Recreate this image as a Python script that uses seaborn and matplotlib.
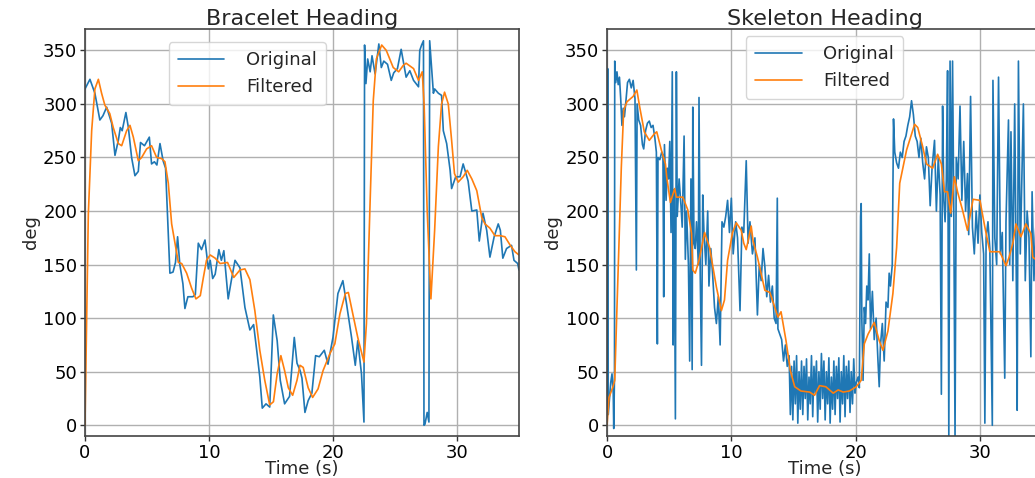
import matplotlib
matplotlib.use("Agg")
import matplotlib.pyplot as plt
import seaborn as sns

# --- bracelet heading (deg) ---
brc_t = [0.0, 0.4, 0.8, 1.2, 1.45, 1.75, 2.15, 2.42, 2.69, 2.85, 3.0, 3.3, 3.5, 3.76,
         4.03, 4.3, 4.48, 4.8, 5.19, 5.37, 5.6, 5.8, 6.05, 6.3, 6.5, 6.85, 7.1, 7.3,
         7.47, 7.65, 7.9, 8.06, 8.3, 8.7, 8.9, 9.14, 9.4, 9.68, 9.95, 10.1, 10.3, 10.5,
         10.8, 11.0, 11.2, 11.55, 11.8, 12.1, 12.5, 12.9, 13.3, 13.6, 13.85, 14.1, 14.3,
         14.6, 14.9, 15.19, 15.5, 15.75, 16.1, 16.5, 16.88, 17.1, 17.35, 17.5, 17.74,
         18.0, 18.3, 18.6, 18.9, 19.3, 19.6, 20.0, 20.4, 20.8, 21.1, 21.5, 21.8, 22.0,
         22.3, 22.5, 22.55, 22.66, 22.8, 23.0, 23.15, 23.4, 23.7, 23.9, 24.1, 24.4,
         24.7, 24.9, 25.2, 25.5, 25.9, 26.2, 26.5, 26.7, 26.9, 27.0, 27.15, 27.3, 27.34,
         27.42, 27.6, 27.74, 27.8, 28.1, 28.2, 28.5, 28.76, 28.9, 29.17, 29.45, 29.57,
         29.9, 30.25, 30.5, 30.9, 31.2, 31.6, 31.8, 32.1, 32.4, 32.66, 33.0, 33.33, 33.5,
         33.7, 34.0, 34.4, 34.6, 34.9, 35.0]
brc_raw = [314, 323, 310, 285, 289, 297, 282, 252, 266, 278, 275, 292, 278, 250,
           233, 237, 264, 261, 269, 244, 246, 243, 263, 247, 240, 142, 143, 152,
           176, 150, 132, 109, 120, 120, 122, 170, 164, 173, 146, 154, 137, 141,
           164, 154, 163, 118, 135, 154, 147, 110, 89, 94, 70, 45, 16,
           20, 17, 103, 79, 42, 20, 27, 82, 58, 51, 44, 12,
           23, 30, 65, 64, 70, 57, 82, 123, 135, 113, 82, 56, 79,
           48, 3, 355, 319, 342, 330, 345, 328, 356, 334, 340, 337,
           322, 329, 333, 351, 325, 331, 322, 319, 316, 350, 355, 359, 0,
           1, 12, 3, 359, 310, 314, 310, 308, 275, 263, 238, 221,
           232, 232, 244, 228, 200, 201, 172, 198, 182, 157, 176, 188, 182,
           156, 165, 168, 154, 151, 145]

brc_ft = [0.0, 0.27, 0.54, 0.8, 1.08, 1.34, 1.6, 2.0, 2.28, 2.69, 2.96, 3.36, 3.63, 3.9,
          4.3, 4.57, 4.97, 5.37, 5.78, 6.18, 6.45, 6.72, 6.99, 7.26, 7.53, 7.8, 8.2,
          8.6, 8.95, 9.3, 9.55, 9.8, 10.1, 10.5, 10.9, 11.5, 12.0, 12.5, 12.9, 13.3,
          13.7, 14.1, 14.5, 14.9, 15.2, 15.5, 15.8, 16.1, 16.4, 16.75, 17.1, 17.34, 17.6,
          18.0, 18.36, 18.8, 19.2, 19.76, 20.15, 20.56, 21.0, 21.24, 21.6, 22.0, 22.5,
          22.7, 23.0, 23.25, 23.5, 23.93, 24.3, 24.86, 25.3, 25.67, 25.9, 26.5, 26.9,
          27.2, 27.35, 27.6, 27.9, 28.2, 28.5, 28.76, 29.0, 29.3, 29.57, 29.8, 30.1,
          30.5, 30.83, 31.2, 31.6, 32.0, 32.26, 32.66, 33.06, 33.5, 33.87, 34.3, 34.68,
          35.0]
brc_filt = [0, 197, 275, 314, 323, 310, 299, 291, 278, 263, 261, 275, 280, 269,
            247, 250, 258, 261, 250, 249, 246, 226, 188, 170, 152, 151, 142,
            128, 118, 121, 138, 154, 159, 156, 151, 152, 138, 145, 146, 136,
            107, 70, 42, 19, 22, 48, 65, 51, 35, 28, 42, 56, 54,
            35, 26, 34, 51, 67, 76, 104, 123, 124, 104, 82, 59,
            95, 210, 303, 342, 355, 350, 334, 330, 336, 338, 333, 322,
            330, 300, 200, 118, 182, 260, 300, 311, 300, 266, 235, 227,
            232, 238, 230, 219, 194, 188, 184, 177, 177, 176, 168, 162,
            159]

# --- skeleton heading (deg) ---
skl_t = [0.00, 0.05, 0.10, 0.20, 0.30, 0.40, 0.50, 0.54, 0.60, 0.62, 0.70, 0.80, 0.90,
         1.00, 1.10, 1.20, 1.30, 1.40, 1.50, 1.65, 1.80, 1.95, 2.10, 2.25, 2.36, 2.42,
         2.55, 2.70, 2.85, 2.95, 3.10, 3.25, 3.40, 3.55, 3.70, 3.85, 3.97, 4.05, 4.10,
         4.25, 4.40, 4.50, 4.56, 4.62, 4.75, 4.85, 4.95, 5.05, 5.15, 5.25, 5.32, 5.40,
         5.50, 5.58, 5.65, 5.80, 5.95, 6.05, 6.20, 6.30, 6.40, 6.55, 6.65, 6.75, 6.85,
         6.90, 7.00, 7.10, 7.20, 7.35, 7.40, 7.50, 7.60, 7.70, 7.80, 7.95, 8.10, 8.20,
         8.35, 8.50, 8.65, 8.80, 8.95, 9.10, 9.25, 9.40, 9.55, 9.70, 9.85, 10.00, 10.15,
         10.35, 10.50, 10.70, 10.85, 11.00, 11.20, 11.35, 11.50, 11.70, 11.90, 12.10,
         12.25, 12.40, 12.55, 12.70, 12.85, 13.00, 13.15, 13.30, 13.45, 13.60, 13.70,
         13.75, 13.90, 14.05, 14.20, 14.35, 14.50, 14.65, 14.75, 14.85, 14.95, 15.05,
         15.15, 15.25, 15.35, 15.45, 15.55, 15.65, 15.75, 15.85, 15.95, 16.05, 16.15,
         16.25, 16.35, 16.45, 16.55, 16.65, 16.75, 16.85, 16.95, 17.05, 17.15, 17.25,
         17.35, 17.45, 17.55, 17.65, 17.75, 17.85, 17.95, 18.05, 18.15, 18.25, 18.35,
         18.45, 18.55, 18.65, 18.75, 18.85, 18.95, 19.05, 19.15, 19.25, 19.35, 19.45,
         19.55, 19.65, 19.75, 19.85, 19.95, 20.05, 20.20, 20.30, 20.40, 20.45, 20.50,
         20.60, 20.70, 20.80, 20.90, 21.00, 21.10, 21.20, 21.35, 21.50, 21.65, 21.80,
         21.90, 22.00, 22.15, 22.30, 22.45, 22.60, 22.70, 22.80, 22.95, 23.05, 23.15,
         23.30, 23.45, 23.60, 23.75, 23.90, 24.05, 24.20, 24.35, 24.50, 24.65, 24.80,
         24.95, 25.10, 25.25, 25.40, 25.55, 25.70, 25.85, 26.00, 26.15, 26.35, 26.50,
         26.65, 26.80, 26.90, 27.00, 27.10, 27.20, 27.30, 27.40, 27.50, 27.60, 27.70,
         27.80, 27.90, 28.00, 28.10, 28.25, 28.40, 28.55, 28.70, 28.85, 29.00, 29.10,
         29.25, 29.40, 29.55, 29.70, 29.85, 30.00, 30.15, 30.30, 30.40, 30.50, 30.65,
         30.80, 31.00, 31.05, 31.20, 31.35, 31.50, 31.65, 31.80, 32.00, 32.10, 32.30,
         32.40, 32.50, 32.65, 32.80, 32.95, 33.00, 33.10, 33.25, 33.50, 33.65, 33.80,
         33.95, 34.10, 34.20, 34.35, 34.45, 34.55, 34.70, 34.85, 35.00]
skl_raw = [0, 333, 10, 25, 40, 48, 30, -3, 45, 340, 320, 330, 318,
           325, 305, 280, 296, 288, 300, 320, 323, 315, 322, 305, 145, 300,
           285, 280, 262, 258, 275, 282, 284, 278, 280, 268, 255, 76, 250,
           248, 255, 252, 120, 262, 210, 240, 230, 265, 180, 330, 75, 220,
           6, 330, 195, 230, 205, 185, 270, 155, 200, 150, 60, 230, 52,
           297, 170, 165, 190, 150, 306, 140, 56, 215, 180, 150, 200, 130,
           165, 140, 110, 95, 120, 75, 190, 185, 195, 210, 180, 212, 160,
           190, 175, 107, 185, 180, 247, 170, 190, 160, 175, 103,
           150, 135, 165, 148, 120, 140, 115, 130, 100, 95, 212,
           90, 85, 80, 60, 75, 55, 65, 10, 55, 5, 60,
           20, 65, 2, 50, 15, 60, 10, 55, 25, 62, 5,
           45, 20, 65, 8, 55, 30, 60, 3, 50, 15, 67,
           25, 60, 5, 50, 20, 63, 2, 45, 15, 60, 10,
           55, 25, 63, 3, 50, 20, 65, 8, 55, 25, 60,
           12, 50, 20, 62, 30, 40, 45, 35, 195, 207, 100,
           42, 110, 95, 130, 117, 160, 90, 125, 80, 100, 60,
           36, 75, 95, 60, 115, 110, 142, 130, 150, 286, 255,
           245, 240, 255, 250, 265, 270, 280, 288, 303, 290, 270,
           265, 250, 268, 245, 230, 260, 250, 205, 240, 266, 200,
           250, 215, 29, 298, 210, 190, 230, 331, -12, 340, 195,
           340, 200, -12, 250, 230, 298, 210, 265, 200, 235, 178,
           307, 185, 160, 200, 170, 215, 180, 160, 2, 175, 190,
           165, 0, 322, 175, 150, 325, 160, 180, 44, 190, 285,
           150, 274, 135, 300, 110, 14, 340, 160, 300, 135, 200,
           175, 64, 218, 135, 175, 195, 140, 185, 165]

skl_ft = [0.0, 0.16, 0.48, 0.62, 0.8, 0.97, 1.15, 1.34, 1.6, 2.1, 2.4, 2.63, 3.0, 3.4,
          3.8, 4.0, 4.37, 4.7, 4.8, 5.1, 5.44, 5.58, 6.1, 6.5, 6.8, 6.9, 7.1, 7.4,
          7.85, 8.25, 8.8, 9.2, 9.45, 9.7, 10.1, 10.4, 10.8, 11.0, 11.2, 11.6, 11.75,
          12.1, 12.7, 13.1, 13.5, 13.75, 14.0, 14.4, 14.75, 15.1, 15.6, 16.3, 16.7,
          17.1, 17.6, 18.2, 18.6, 19.0, 19.5, 20.05, 20.45, 20.7, 21.0, 21.5, 21.9,
          22.2, 22.6, 23.0, 23.3, 23.55, 24.1, 24.75, 25.0, 25.4, 25.7, 26.2, 26.6,
          26.9, 27.15, 27.4, 27.65, 27.8, 27.95, 28.2, 28.6, 29.0, 29.45, 30.0, 30.4,
          30.8, 31.6, 32.1, 32.35, 32.65, 32.9, 33.3, 33.7, 34.1, 34.25, 35.0]
skl_filt = [0, 26, 36, 42, 110, 173, 241, 294, 302, 307, 313, 297, 274, 266,
            272, 274, 257, 244, 232, 208, 221, 213, 213, 201, 179, 145, 142, 154,
            180, 166, 129, 107, 117, 154, 180, 189, 182, 170, 164, 186, 172,
            157, 126, 124, 110, 101, 106, 79, 51, 36, 32, 31, 28,
            37, 36, 30, 33, 31, 32, 36, 42, 76, 85, 96, 79,
            70, 88, 123, 166, 226, 257, 281, 278, 260, 244, 240, 253,
            244, 218, 218, 198, 215, 232, 218, 201, 182, 211, 210, 185,
            162, 162, 149, 157, 170, 188, 176, 188, 179, 157, 150]

BLUE = "#1f77b4"
ORANGE = "#ff7f0e"

sns.set_style("ticks")
plt.rcParams["font.family"] = ["DejaVu Sans"]

fig = plt.figure(figsize=(10.35, 4.78), dpi=100)
ax_b = fig.add_axes([0.0821, 0.0879, 0.4193, 0.8515])
# right panel runs past the figure edge, as in the reference (cropped)
ax_s = fig.add_axes([0.5865, 0.0879, 0.4203, 0.8515])

panels = [
    (ax_b, "Bracelet Heading", brc_t, brc_raw, brc_ft, brc_filt, 0.374, 0.99),
    (ax_s, "Skeleton Heading", skl_t, skl_raw, skl_ft, skl_filt, 0.5, 1.005),
]

for ax, title, t_raw, raw, t_f, filt, lx, ly in panels:
    sns.lineplot(x=t_raw, y=raw, ax=ax, color=BLUE, lw=1.2, label="Original",
                 estimator=None, sort=False)
    sns.lineplot(x=t_f, y=filt, ax=ax, color=ORANGE, lw=1.2, label="Filtered",
                 estimator=None, sort=False)
    ax.set_xlim(0, 35)
    ax.set_ylim(-10, 370)
    ax.set_xticks([0, 10, 20, 30])
    ax.set_yticks([0, 50, 100, 150, 200, 250, 300, 350])
    ax.grid(True, color="#b0b0b0", lw=1)
    ax.set_axisbelow(True)
    ax.tick_params(labelsize=13, length=3.5, width=1, pad=2,
                   colors="#333333", labelcolor="black")
    for sp in ax.spines.values():
        sp.set_color("#444444")
        sp.set_linewidth(1.2)
    ax.set_title(title, fontsize=16, pad=3)
    ax.set_xlabel("Time (s)", fontsize=13, labelpad=-1)
    ax.set_ylabel("deg", fontsize=13, labelpad=2)
    ax.legend(loc="upper center", bbox_to_anchor=(lx, ly), fontsize=13,
              handlelength=2.6, handletextpad=1.2, borderpad=0.5,
              frameon=True, fancybox=True, framealpha=0.8, edgecolor="#cccccc")

fig.savefig("out.png", dpi=100)
